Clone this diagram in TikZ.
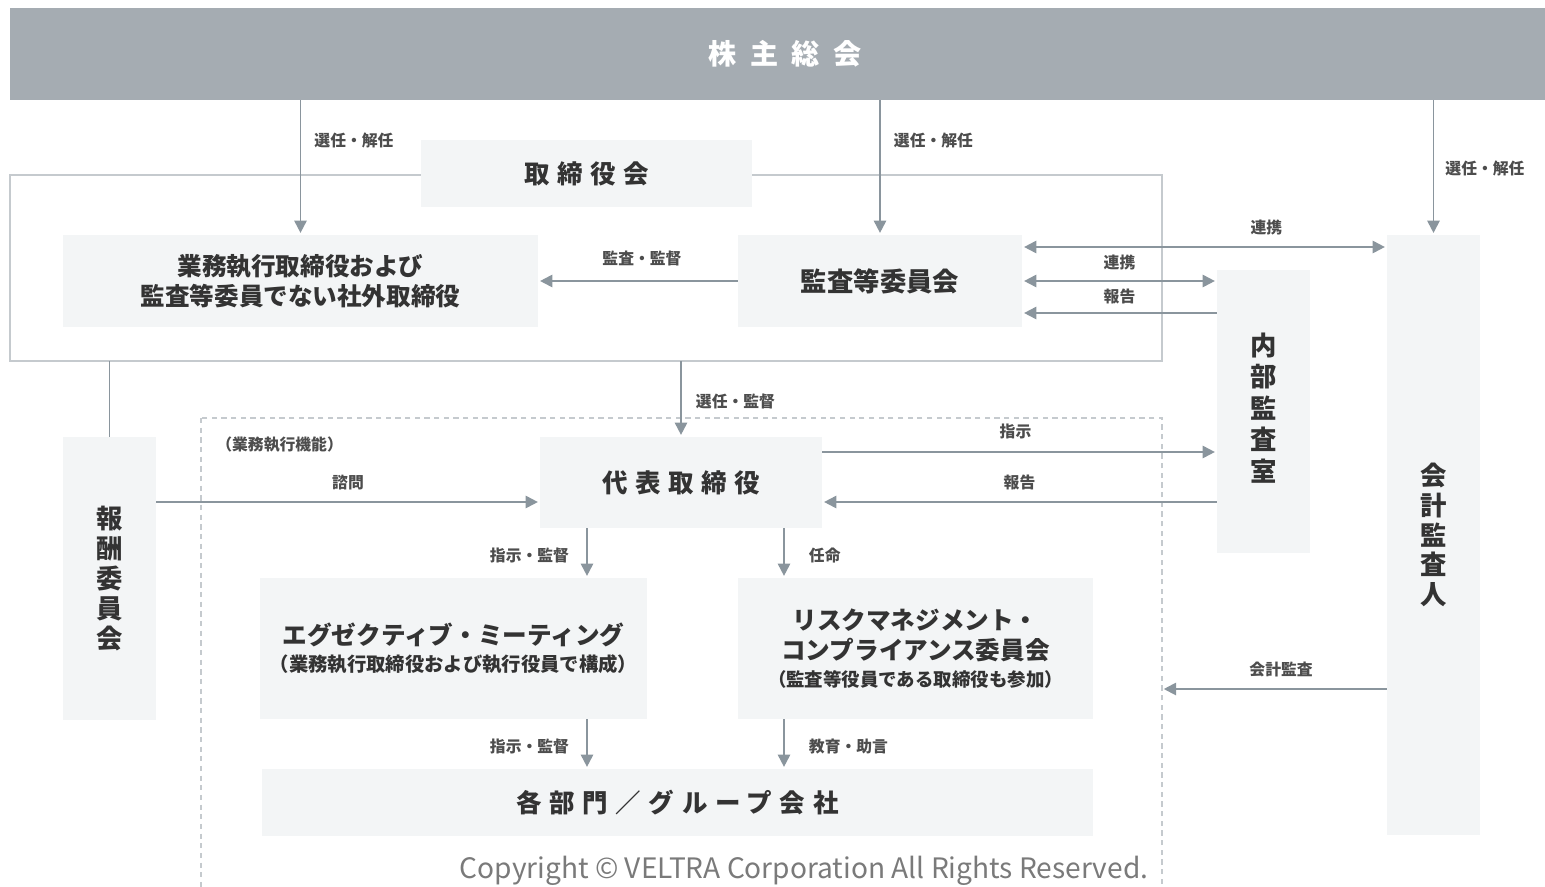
\documentclass[tikz,border=0pt]{standalone}
\usepackage{fontspec}
\usetikzlibrary{arrows.meta}
\newfontfamily\jp{Noto Sans CJK JP}
\newfontfamily\jpwide{Noto Sans CJK JP}[LetterSpace=30]
\newfontfamily\jptop{Noto Sans CJK JP}[LetterSpace=48]
\definecolor{barfill}{HTML}{A5ACB2}
\definecolor{boxfill}{HTML}{F3F5F6}
\definecolor{frameline}{HTML}{C5CACE}
\definecolor{arrowgray}{HTML}{8A959D}
\definecolor{textdark}{HTML}{333333}
\definecolor{labelgray}{HTML}{4D4D4D}
\definecolor{copygray}{HTML}{7A7A7A}

\begin{document}
\begin{tikzpicture}[x=0.02cm, y=-0.02cm,
  box/.style={fill=boxfill, inner sep=0pt, text=textdark, align=center,
    font=\jp\bfseries\fontsize{14pt}{17pt}\selectfont},
  widebox/.style={box, font=\jpwide\bfseries\fontsize{14.5pt}{17pt}\selectfont},
  vbox/.style={box, minimum width=1.86cm, minimum height=5.66cm,
    font=\jp\bfseries\fontsize{15pt}{17pt}\selectfont},
  arr/.style={draw=arrowgray, line width=1.1pt, shorten >=1pt,
    -{Triangle[length=7pt, width=7pt]}},
  darr/.style={arr, shorten <=1pt, {Triangle[length=7pt, width=7pt]}-{Triangle[length=7pt, width=7pt]}},
  lbl/.style={text=labelgray, inner sep=0pt,
    font=\jp\bfseries\fontsize{9pt}{10pt}\selectfont},
  frame/.style={draw=frameline, line width=0.8pt},
]
  \useasboundingbox (0,0) rectangle (1545,886);

  % General meeting bar
  \node[fill=barfill, inner sep=0pt, minimum width=31cm, minimum height=1.84cm, text=white,
    font=\jptop\bfseries\fontsize{16pt}{18pt}\selectfont] (gm) at (785,54) {株主総会};

  % Board frame and execution frame
  \coordinate (bd-nw) at (10,175);
  \coordinate (bd-se) at (1162,361);
  \draw[frame] (bd-nw) rectangle (bd-se);
  \coordinate (ex-nw) at (201,418);
  \coordinate (ex-se) at (1162,900);
  \draw[frame, dashed, dash pattern=on 3pt off 2.5pt] (ex-nw) rectangle (ex-se);

  % Boxes
  \node[widebox, minimum width=6.62cm, minimum height=1.34cm] (board) at (586.5,173.5) {取締役会};
  \node[box, minimum width=9.5cm, minimum height=1.84cm] (dir) at (300.5,281)
    {業務執行取締役および\\監査等委員でない社外取締役};
  \node[box, minimum width=5.68cm, minimum height=1.84cm,
    font=\jp\bfseries\fontsize{15pt}{17pt}\selectfont] (acm) at (880,281) {監査等委員会};
  \node[vbox] (ia) at (1263.5,411.5)
    {\raisebox{0.17cm}{\begin{tabular}{@{}c@{}}内\\部\\監\\査\\室\end{tabular}}};
  \node[vbox, minimum height=12cm] (ca) at (1433.5,535) {会\\計\\監\\査\\人};
  \node[vbox] (rem) at (109.5,578.5) {報\\酬\\委\\員\\会};
  \node[widebox, minimum width=5.64cm, minimum height=1.82cm] (rep) at (681,482.5) {代表取締役};
  \node[box, minimum width=7.74cm, minimum height=2.82cm] (exm) at (453.5,648.5)
    {エグゼクティブ・ミーティング\\[-2pt]{\fontsize{11pt}{13pt}\selectfont（業務執行取締役および執行役員で構成）}};
  \node[box, minimum width=7.1cm, minimum height=2.82cm] (risk) at (915.5,648.5)
    {リスクマネジメント・\\コンプライアンス委員会\\[-2pt]{\fontsize{10.5pt}{12pt}\selectfont（監査等役員である取締役も参加）}};
  \node[widebox, minimum width=16.62cm, minimum height=1.34cm] (dept) at (677.5,802.5) {各部門／グループ会社};

  \node[lbl, anchor=west] (func) at (216,445) {（業務執行機能）};

  % Helper positions
  \coordinate (xl) at (587,0);
  \coordinate (xr) at (784,0);
  \coordinate (ya) at (0,247);
  \coordinate (yb) at (0,313);
  \coordinate (yc) at (0,452);
  \coordinate (yd) at (0,502);
  \coordinate (ye) at (0,689);

  % Arrows from the general meeting
  \draw[arr] (gm.south -| dir.north) -- node[lbl, right=0.26cm, pos=0.3] {選任・解任} (dir.north);
  \draw[arr] (gm.south -| acm.north) -- node[lbl, right=0.26cm, pos=0.3] {選任・解任} (acm.north);
  \draw[arr] (gm.south -| ca.north) -- node[lbl, right=0.22cm, pos=0.51] {選任・解任} (ca.north);

  % Audit committee links
  \draw[arr] (acm.west) -- node[lbl, above=0.28cm, pos=0.48] {監査・監督} (dir.east);
  \draw[darr] (acm.east |- ya) -- node[lbl, above=0.22cm, pos=0.67] {連携} (ca.west |- ya);
  \draw[darr] (acm.east) -- node[lbl, above=0.2cm] {連携} (ia.west |- acm.east);
  \draw[arr] (ia.west |- yb) -- node[lbl, above=0.16cm] {報告} (acm.east |- yb);

  % Board to committees and representative
  \draw[arrowgray, line width=1.1pt] (rem.north |- bd-se) -- (rem.north);
  \draw[arr] (rep.north |- bd-se) -- node[lbl, right=0.28cm, pos=0.53] {選任・監督} (rep.north);
  \draw[arr] (rem.east |- yd) -- node[lbl, above=0.22cm] {諮問} (rep.west |- yd);

  % Representative and internal audit
  \draw[arr] (rep.east |- yc) -- node[lbl, above=0.24cm, pos=0.49] {指示} (ia.west |- yc);
  \draw[arr] (ia.west |- yd) -- node[lbl, above=0.22cm] {報告} (rep.east |- yd);

  % Down to meetings and departments
  \draw[arr] (rep.south -| xl) -- node[lbl, left=0.34cm, pos=0.56] {指示・監督} (exm.north -| xl);
  \draw[arr] (rep.south -| xr) -- node[lbl, right=0.48cm, pos=0.56] {任命} (risk.north -| xr);
  \draw[arr] (exm.south -| xl) -- node[lbl, left=0.34cm, pos=0.56] {指示・監督} (dept.north -| xl);
  \draw[arr] (risk.south -| xr) -- node[lbl, right=0.48cm, pos=0.56] {教育・助言} (dept.north -| xr);

  % Accounting audit
  \draw[arr] (ca.west |- ye) -- node[lbl, above=0.22cm, pos=0.47] {会計監査} (ex-se |- ye);

  \node[text=copygray, inner sep=0pt, font=\jp\fontsize{16pt}{18pt}\selectfont] (copy) at (804,871)
    {Copyright © VELTRA Corporation All Rights Reserved.};
\end{tikzpicture}
\end{document}
